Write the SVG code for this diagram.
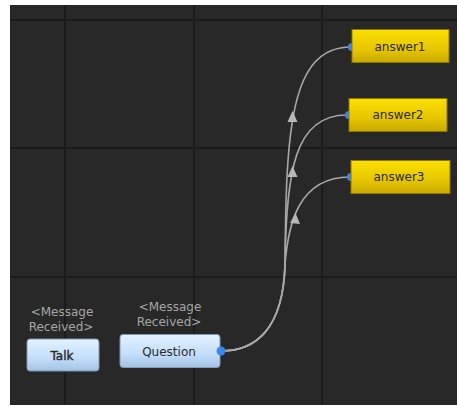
<svg xmlns="http://www.w3.org/2000/svg" width="457" height="406" viewBox="0 0 457 406">
<defs>
<linearGradient id="gy" x1="0" y1="0" x2="0" y2="1">
<stop offset="0" stop-color="#fbe000"/>
<stop offset="0.6" stop-color="#e6c600"/>
<stop offset="1" stop-color="#c9a900"/>
</linearGradient>
<linearGradient id="gb" x1="0" y1="0" x2="0" y2="1">
<stop offset="0" stop-color="#e2f1ff"/>
<stop offset="0.6" stop-color="#c4defa"/>
<stop offset="1" stop-color="#a3c1e2"/>
</linearGradient>
<style>
.grid{stroke:#1b1b1b;stroke-width:2}
.edge{fill:none;stroke:#a8a8a8;stroke-width:1.6}
.arr{fill:#b8b8b8}
.port{fill:#3d86f2}
.ans{fill:url(#gy);stroke:#8c7800;stroke-width:1}
.st{fill:url(#gb);stroke:#7f97b3;stroke-width:1}
.t{font-family:"DejaVu Sans",sans-serif;font-size:12px;text-anchor:middle;fill:#2a2a2a}
.lab{font-family:"DejaVu Sans",sans-serif;font-size:12px;text-anchor:middle;fill:#a6a6a6}
</style>
</defs>
<rect x="0" y="0" width="457" height="406" fill="#ffffff"/>
<rect x="10" y="5" width="447" height="400" fill="#282828"/>
<g id="grid">
<line class="grid" x1="65" y1="5" x2="65" y2="405"/>
<line class="grid" x1="194" y1="5" x2="194" y2="405"/>
<line class="grid" x1="322" y1="5" x2="322" y2="405"/>
<line class="grid" x1="10" y1="20" x2="457" y2="20"/>
<line class="grid" x1="10" y1="148" x2="457" y2="148"/>
<line class="grid" x1="10" y1="277" x2="457" y2="277"/>
</g>
<g id="connectors">
<path class="edge" d="M221,351 C255,351 283,330 285,265 C286,130 290,47 351,47"/>
<path class="edge" d="M221,351 C255,351 283,330 285,265 C286,170 295,115 347,115"/>
<path class="edge" d="M221,351 C255,351 283,330 285,265 C288,225 298,177 350,177"/>
<polygon class="arr" points="292.5,111 297.5,122 287.5,122"/>
<polygon class="arr" points="292.5,166 297.5,177 287.5,177"/>
<polygon class="arr" points="295.5,213 300,224 290,223"/>
</g>
<g id="answer1">
<circle class="port" cx="352" cy="47" r="4"/>
<rect class="ans" x="352" y="29.5" width="97" height="33"/>
<text class="t" x="400" y="51">answer1</text>
</g>
<g id="answer2">
<circle class="port" cx="349" cy="115" r="4"/>
<rect class="ans" x="349" y="98.5" width="98" height="33"/>
<text class="t" x="398" y="119">answer2</text>
</g>
<g id="answer3">
<circle class="port" cx="351" cy="177" r="4"/>
<rect class="ans" x="351" y="160.5" width="99" height="33"/>
<text class="t" x="399" y="181">answer3</text>
</g>
<g id="talk">
<text class="lab" x="62" y="316">&lt;Message</text>
<text class="lab" x="61" y="331">Received&gt;</text>
<rect class="st" x="27" y="339" width="72" height="32" rx="3"/>
<text class="t" x="62" y="360" stroke="#2a2a2a" stroke-width="0.4">Talk</text>
</g>
<g id="question">
<text class="lab" x="170" y="311">&lt;Message</text>
<text class="lab" x="169" y="326">Received&gt;</text>
<rect class="st" x="120" y="334.5" width="100" height="33" rx="3"/>
<text class="t" x="169" y="356">Question</text>
<circle class="port" cx="221" cy="351" r="4.5"/>
</g>
</svg>
